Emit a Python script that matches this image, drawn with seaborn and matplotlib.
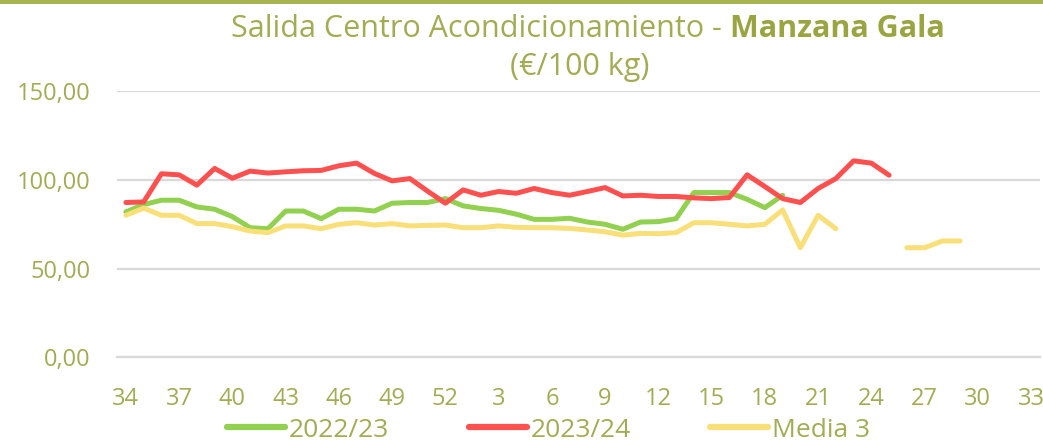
import numpy as np
import pandas as pd
import matplotlib
matplotlib.use('Agg')
import matplotlib.pyplot as plt
import seaborn as sns
from matplotlib.lines import Line2D
from matplotlib.patches import Rectangle
from matplotlib.ticker import FuncFormatter, MultipleLocator

nan = np.nan

# Semanas de campaña: 34..52 y 1..33
semanas = list(range(34, 53)) + list(range(1, 34))

campana_2223 = [82.1, 86.2, 88.7, 88.7, 84.9, 83.6, 79.4, 73.2, 72.6, 82.6,
                82.6, 78.3, 83.6, 83.6, 82.6, 87.0, 87.4, 87.4, 89.6, 85.5,
                84.0, 83.0, 80.8, 77.9, 77.9, 78.5, 76.4, 75.1, 72.3, 76.4,
                76.6, 78.3, 93.0, 93.0, 93.0, 89.2, 84.5, 91.5] + [nan] * 14

campana_2324 = [87.4, 87.7, 103.6, 103.0, 97.2, 106.6, 101.1, 105.1, 104.0, 104.7,
                105.3, 105.5, 108.1, 109.6, 103.8, 99.6, 100.9, 93.8, 87.0, 94.5,
                91.5, 93.6, 92.6, 95.3, 93.0, 91.5, 93.6, 95.8, 91.1, 91.5,
                90.8, 90.8, 90.0, 89.6, 90.2, 103.0, 96.4, 89.6, 87.4, 95.3,
                100.9, 110.9, 109.6, 102.8] + [nan] * 8

media_3 = [80.2, 84.2, 80.2, 80.2, 75.5, 75.5, 73.8, 71.3, 70.4, 74.2,
           74.2, 72.6, 75.1, 76.0, 74.7, 75.5, 74.2, 74.5, 74.7, 73.2,
           73.2, 74.2, 73.4, 73.2, 73.2, 72.8, 71.9, 70.9, 69.0, 70.0,
           69.8, 70.4, 76.0, 76.0, 75.1, 74.2, 75.1, 83.2, 61.9, 80.2,
           72.6, nan, nan, nan, 61.9, 61.9, 65.7, 65.7, nan, nan,
           nan, nan]

series = ['2022/23', '2023/24', 'Media 3']
colores = {'2022/23': '#92D050', '2023/24': '#FF5050', 'Media 3': '#F9DF78'}

texto = '#A3AC52'
texto_bold = '#9AA542'

df = pd.DataFrame({'pos': range(len(semanas)), '2022/23': campana_2223,
                   '2023/24': campana_2324, 'Media 3': media_3})
largo = df.melt(id_vars='pos', var_name='serie', value_name='precio')
# tramos separados donde faltan datos
largo['tramo'] = largo.groupby('serie')['precio'].transform(lambda s: s.isna().cumsum())
largo = largo.dropna()

sns.set_style('white')
plt.rcParams['font.family'] = ['Open Sans', 'DejaVu Sans']

fig = plt.figure(figsize=(10.43, 4.42), dpi=100)
ax = fig.add_axes([0.1122, 0.1912, 0.8849, 0.6018])

sns.lineplot(data=largo, x='pos', y='precio', hue='serie', hue_order=series,
             units='tramo', estimator=None, palette=colores, linewidth=3.6,
             solid_capstyle='round', solid_joinstyle='round', legend=False, ax=ax)

ax.set_xlim(-0.5, len(semanas) - 0.5)
ax.set_ylim(0, 150)
ax.yaxis.set_major_locator(MultipleLocator(50))
ax.yaxis.set_major_formatter(FuncFormatter(lambda v, p: f'{v:.2f}'.replace('.', ',')))
ax.grid(axis='y', color='#D9D9D9', linewidth=1.6)
ax.set_axisbelow(True)

ax.set_xticks(range(0, len(semanas), 3))
ax.set_xticklabels([str(semanas[i]) for i in range(0, len(semanas), 3)])
ax.set_xticks(np.arange(-0.5, len(semanas), 1), minor=True)
ax.tick_params(axis='x', which='major', length=0, pad=21, labelsize=17, labelcolor=texto)
ax.tick_params(axis='x', which='minor', length=5, width=1, color='#BFBFBF', direction='out')
ax.tick_params(axis='y', length=0, pad=19, labelsize=17, labelcolor=texto)
ax.set_xlabel('')
ax.set_ylabel('')
for lado in ['top', 'right', 'left']:
    ax.spines[lado].set_visible(False)
ax.spines['bottom'].set_color('#D9D9D9')
ax.spines['bottom'].set_linewidth(1.6)

# Título en dos partes (normal + negrita)
fig.text(0.692, 0.935, 'Salida Centro Acondicionamiento -', ha='right', va='center',
         fontsize=22, color=texto)
fig.text(0.700, 0.935, 'Manzana Gala', ha='left', va='center',
         fontsize=22, color=texto_bold, fontweight='bold')
fig.text(0.556, 0.848, '(€/100 kg)', ha='center', va='center', fontsize=22, color=texto)

# Borde superior
fig.add_artist(Rectangle((0, 0.992), 1, 0.008, transform=fig.transFigure,
                         color='#A9B34F', linewidth=0))

handles = [Line2D([], [], color=colores[s], linewidth=4.5, solid_capstyle='round') for s in series]
leg = fig.legend(handles, series, loc='center', bbox_to_anchor=(0.526, 0.027), ncol=3,
                 frameon=False, fontsize=19, handlelength=2.2, handletextpad=0.15,
                 columnspacing=3.0, borderaxespad=0)
for t in leg.get_texts():
    t.set_color(texto)

fig.savefig('out.png', dpi=100)
